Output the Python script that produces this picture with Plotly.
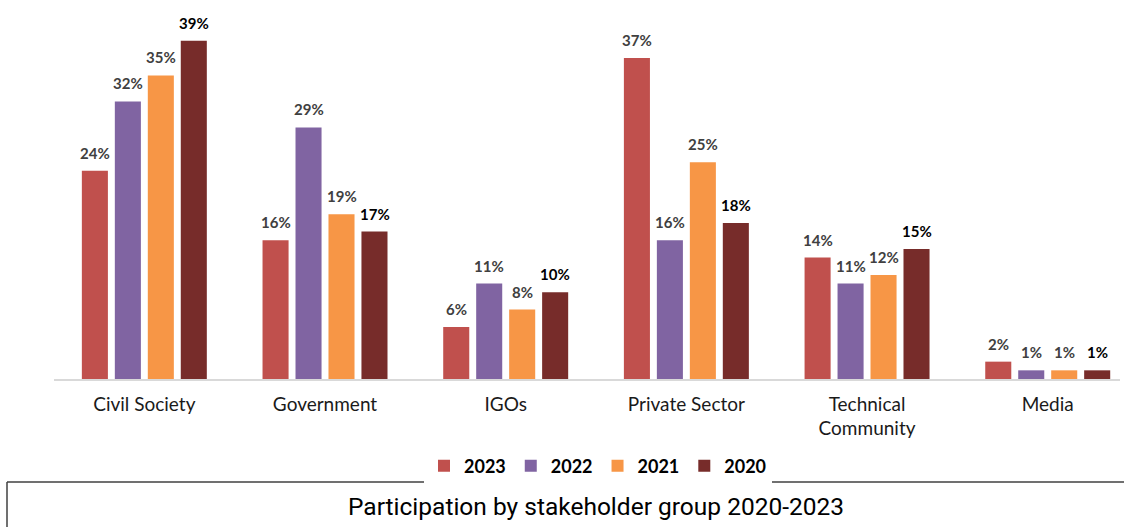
import plotly.graph_objects as go

categories = ["Civil Society", "Government", "IGOs", "Private Sector", "Technical<br>Community", "Media"]
years = ["2023", "2022", "2021", "2020"]
v2023 = [24, 16, 6, 37, 14, 2]
v2022 = [32, 29, 11, 16, 11, 1]
v2021 = [35, 19, 8, 25, 12, 1]
v2020 = [39, 17, 10, 18, 15, 1]
colors = ["#C0504D", "#8064A2", "#F79646", "#772C2A"]
label_colors = ["#404040", "#404040", "#404040", "#000000"]
series = [v2023, v2022, v2021, v2020]

fig = go.Figure()
for name, vals, col in zip(years, series, colors):
    fig.add_trace(go.Bar(
        x=list(range(len(categories))), y=vals, name=f"<b>{name}</b>",
        marker=dict(color=col, line=dict(width=0)),
    ))

slot_px = 33
for i, (vals, lc) in enumerate(zip(series, label_colors)):
    for j, v in enumerate(vals):
        fig.add_annotation(
            x=j, y=v, xref="x", yref="y", text=f"<b>{v}%</b>",
            showarrow=False, xshift=(i - 1.5) * slot_px, yshift=7,
            yanchor="bottom", font=dict(family="Lato, Open Sans, sans-serif", size=15, color=lc),
        )

# bottom caption box
fig.add_shape(type="line", xref="paper", yref="paper",
              x0=(7 - 54) / 1066, x1=(1130 - 54) / 1066,
              y0=1 - 482 / 379, y1=1 - 482 / 379,
              line=dict(color="#404040", width=1.5))
fig.add_shape(type="line", xref="paper", yref="paper",
              x0=(7 - 54) / 1066, x1=(7 - 54) / 1066,
              y0=1 - 482 / 379, y1=1 - 540 / 379,
              line=dict(color="#404040", width=1.5))
fig.add_annotation(
    xref="paper", yref="paper", x=(596 - 54) / 1066, y=1 - 506 / 379,
    text="Participation by stakeholder group 2020-2023", showarrow=False,
    xanchor="center", yanchor="middle",
    font=dict(family="Roboto, sans-serif", size=24.5, color="#000000"),
)

fig.update_layout(
    width=1124, height=527,
    margin=dict(l=54, r=4, t=0, b=148),
    paper_bgcolor="white", plot_bgcolor="white",
    barmode="group", bargap=0.27, bargroupgap=0.21,
    showlegend=True,
    legend=dict(orientation="h", x=(598 - 54) / 1066, xanchor="center",
                y=1 - 466 / 379, yanchor="middle",
                font=dict(family="Lato, Open Sans, sans-serif", size=18, color="#000000"),
                itemwidth=30, traceorder="normal"),
    font=dict(family="Lato, Open Sans, sans-serif"),
)
fig.update_xaxes(
    tickmode="array", tickvals=list(range(len(categories))), ticktext=categories,
    range=[-0.5, 5.40], showline=True, linecolor="#d9d9d9", linewidth=1.5,
    showgrid=False, zeroline=False, ticks="", ticklabelstandoff=7,
    tickfont=dict(family="Lato, Open Sans, sans-serif", size=19, color="#1a1a1a"),
)
fig.update_yaxes(range=[0, 43.7], visible=False, showgrid=False, zeroline=False)

fig.write_html("out.html")
